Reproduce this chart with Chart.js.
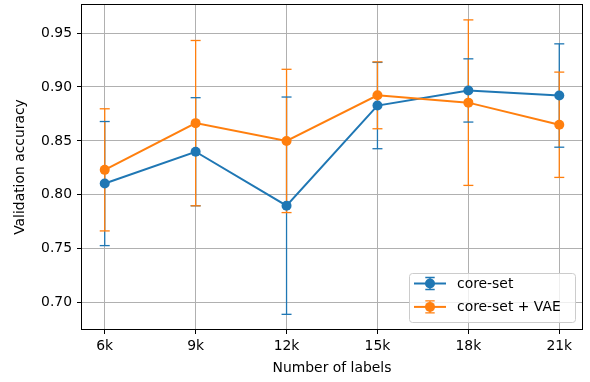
<!DOCTYPE html>
<html>
<head>
<meta charset="utf-8">
<script src="https://cdn.jsdelivr.net/npm/chart.js@4/dist/chart.umd.min.js"></script>
<style>
  html, body { margin: 0; padding: 0; background: #fff; }
  canvas { display: block; }
</style>
</head>
<body>
<canvas id="c" width="590" height="382"></canvas>
<script>
// Number of labels (thousands) and their tick labels
const labelCounts = [6, 9, 12, 15, 18, 21];
const labelNames = ['6k', '9k', '12k', '15k', '18k', '21k'];

// Mean validation accuracy and its spread for each method
const coreSet = [0.8105, 0.8400, 0.7900, 0.8828, 0.8968, 0.8921];
const coreSetErr = [0.0575, 0.0501, 0.1007, 0.0400, 0.0293, 0.0479];
const coreSetVae = [0.8232, 0.8665, 0.8500, 0.8923, 0.8855, 0.8650];
const coreSetVaeErr = [0.0566, 0.0766, 0.0664, 0.0310, 0.0767, 0.0488];

const yTickValues = [0.70, 0.75, 0.80, 0.85, 0.90, 0.95];

const BLUE = '#1f77b4';
const ORANGE = '#ff7f0e';
const FONT = { family: 'DejaVu Sans', size: 13.9 };
const CAP = 5;
const MARKER_R = 5;

function toPoints(values) {
  return values.map((v, i) => ({ x: labelCounts[i], y: v }));
}

// Error bars: stems are drawn beneath every series, caps after each series.
const errorBars = {
  id: 'errorBars',
  beforeDatasetsDraw(chart) {
    const ctx = chart.ctx;
    const y = chart.scales.y;
    chart.data.datasets.forEach((ds, di) => {
      const meta = chart.getDatasetMeta(di);
      ctx.save();
      ctx.strokeStyle = ds.borderColor;
      ctx.lineWidth = 1.3;
      meta.data.forEach((pt, i) => {
        const v = ds.data[i].y, e = ds.errors[i];
        ctx.beginPath();
        ctx.moveTo(pt.x, y.getPixelForValue(v + e));
        ctx.lineTo(pt.x, y.getPixelForValue(v - e));
        ctx.stroke();
      });
      ctx.restore();
    });
  },
  afterDatasetDraw(chart, args) {
    const ctx = chart.ctx;
    const y = chart.scales.y;
    const ds = chart.data.datasets[args.index];
    ctx.save();
    ctx.strokeStyle = ds.borderColor;
    ctx.lineWidth = 1.3;
    args.meta.data.forEach((pt, i) => {
      const v = ds.data[i].y, e = ds.errors[i];
      [v + e, v - e].forEach(val => {
        const py = y.getPixelForValue(val);
        ctx.beginPath();
        ctx.moveTo(pt.x - CAP, py);
        ctx.lineTo(pt.x + CAP, py);
        ctx.stroke();
      });
    });
    ctx.restore();
  }
};

// Axes frame on all four sides and the legend box in the lower right corner
const frameAndLegend = {
  id: 'frameAndLegend',
  afterDatasetsDraw(chart) {
    const { ctx, chartArea: a } = chart;
    ctx.save();
    ctx.strokeStyle = '#000';
    ctx.lineWidth = 1;
    ctx.strokeRect(Math.round(a.left) - 0.5, Math.round(a.top) - 0.5,
                   Math.round(a.right - a.left) + 1, Math.round(a.bottom - a.top) + 1);
    ctx.restore();
  },
  afterDraw(chart) {
    const { ctx, chartArea: a } = chart;
    const w = 166, h = 49;
    const x0 = a.right - 7 - w, y0 = a.bottom - 7.5 - h;
    ctx.save();
    ctx.beginPath();
    ctx.roundRect(Math.round(x0) + 0.5, Math.round(y0) + 0.5, w, h, 3);
    ctx.fillStyle = 'rgba(255,255,255,0.8)';
    ctx.fill();
    ctx.strokeStyle = '#cccccc';
    ctx.lineWidth = 1;
    ctx.stroke();

    chart.data.datasets.forEach((ds, i) => {
      const cy = y0 + 11 + i * 23.4;
      const hx = x0 + 21;
      ctx.strokeStyle = ds.borderColor;
      ctx.fillStyle = ds.borderColor;
      ctx.lineWidth = 2;
      ctx.beginPath();
      ctx.moveTo(x0 + 5, cy);
      ctx.lineTo(x0 + 37, cy);
      ctx.stroke();
      ctx.lineWidth = 1.3;
      ctx.beginPath();
      ctx.moveTo(hx, cy - 6); ctx.lineTo(hx, cy + 6);
      ctx.moveTo(hx - 4.7, cy - 6); ctx.lineTo(hx + 4.7, cy - 6);
      ctx.moveTo(hx - 4.7, cy + 6); ctx.lineTo(hx + 4.7, cy + 6);
      ctx.stroke();
      ctx.beginPath();
      ctx.arc(hx, cy, MARKER_R, 0, Math.PI * 2);
      ctx.fill();
      ctx.fillStyle = '#000';
      ctx.font = `${FONT.size}px "${FONT.family}"`;
      ctx.textBaseline = 'middle';
      ctx.textAlign = 'left';
      ctx.fillText(ds.label, x0 + 48, cy + 0.5);
    });
    ctx.restore();
  }
};

new Chart(document.getElementById('c'), {
  type: 'line',
  data: {
    datasets: [
      {
        label: 'core-set',
        data: toPoints(coreSet),
        errors: coreSetErr,
        borderColor: BLUE,
        backgroundColor: BLUE,
        order: 1
      },
      {
        label: 'core-set + VAE',
        data: toPoints(coreSetVae),
        errors: coreSetVaeErr,
        borderColor: ORANGE,
        backgroundColor: ORANGE,
        order: 0
      }
    ]
  },
  options: {
    responsive: false,
    animation: false,
    devicePixelRatio: 1,
    layout: { padding: { left: 0, top: 3, right: 8, bottom: 0 } },
    elements: {
      line: { borderWidth: 2, tension: 0, fill: false },
      point: { radius: MARKER_R, hoverRadius: MARKER_R, borderWidth: 0 }
    },
    plugins: { legend: { display: false }, tooltip: { enabled: false } },
    scales: {
      x: {
        type: 'linear',
        min: 5.25,
        max: 21.75,
        afterBuildTicks: s => { s.ticks = labelCounts.map(v => ({ value: v })); },
        afterFit: s => { s.height = 53; s.paddingLeft = 0; s.paddingRight = 0; },
        ticks: {
          autoSkip: false,
          maxRotation: 0,
          color: '#000',
          font: FONT,
          padding: 4,
          callback: v => labelNames[labelCounts.indexOf(v)]
        },
        grid: { color: '#b0b0b0', lineWidth: 1, tickLength: 5, tickColor: '#000', tickWidth: 1 },
        border: { display: false },
        title: {
          display: true,
          text: 'Number of labels',
          color: '#000',
          font: FONT,
          padding: { top: 0, bottom: 5 }
        }
      },
      y: {
        type: 'linear',
        min: 0.6757,
        max: 0.976,
        afterBuildTicks: s => { s.ticks = yTickValues.map(v => ({ value: v })); },
        afterFit: s => { s.width = 82; s.paddingTop = 0; s.paddingBottom = 0; },
        ticks: {
          autoSkip: false,
          color: '#000',
          font: FONT,
          padding: 5,
          callback: v => v.toFixed(2)
        },
        grid: { color: '#b0b0b0', lineWidth: 1, tickLength: 5, tickColor: '#000', tickWidth: 1 },
        border: { display: false },
        title: {
          display: true,
          text: 'Validation accuracy',
          color: '#000',
          font: FONT,
          padding: { top: 12, bottom: 0 }
        }
      }
    }
  },
  plugins: [errorBars, frameAndLegend]
});
</script>
</body>
</html>
